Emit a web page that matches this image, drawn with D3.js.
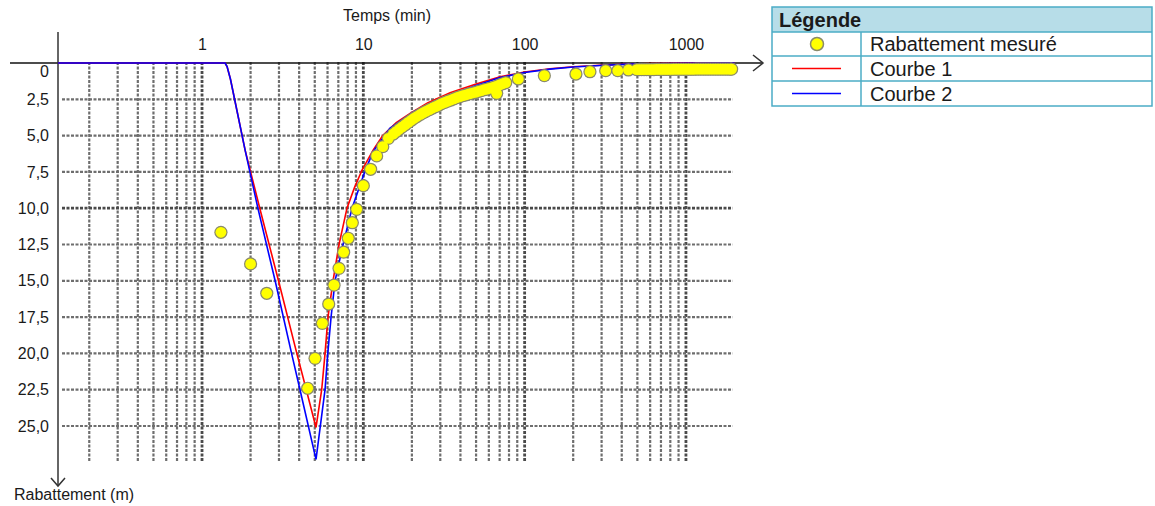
<!DOCTYPE html>
<html>
<head>
<meta charset="utf-8">
<script src="https://cdn.jsdelivr.net/npm/d3@7"></script>
<style>
body { margin: 0; background: #fff; }
text { font-family: "Liberation Sans", Arial, sans-serif; fill: #1a1a1a; }
.grid { fill: none; stroke: #6e6e6e; stroke-width: 2.2; stroke-dasharray: 3,1.5; }
.grid.major { stroke: #4a4a4a; stroke-width: 2.8; }
.curve { fill: none; stroke-width: 1.6; }
.arrow { fill: none; stroke: #333; stroke-width: 1.5; }
</style>
</head>
<body>
<div class="container"></div>
<script>
const WIDTH = 1155;
const HEIGHT = 506;

// temps (min), rabattement (m)
var measured = [
    [1.31, 11.66], [2.0, 13.84], [2.52, 15.86], [4.52, 22.4], [5.02, 20.34],
    [5.57, 17.93], [6.1, 16.6], [6.58, 15.3], [7.07, 14.14], [7.55, 13.03],
    [8.07, 12.07], [8.55, 11.0], [9.1, 10.08], [10.0, 8.45], [11.1, 7.32],
    [12.1, 6.4], [13.2, 5.76], [14.3, 5.19],
    [15.35, 4.89], [16.0, 4.72], [16.7, 4.56], [17.45, 4.4], [18.2, 4.25],
    [19.0, 4.09], [19.85, 3.94], [20.7, 3.8], [21.6, 3.67], [22.6, 3.54],
    [23.6, 3.42], [24.6, 3.31], [25.7, 3.21], [26.9, 3.1], [28.1, 3.0],
    [29.3, 2.91], [30.6, 2.8], [32.0, 2.71], [33.4, 2.63], [34.9, 2.55],
    [36.4, 2.47], [38.0, 2.39], [39.7, 2.32], [41.5, 2.25], [43.4, 2.19],
    [45.3, 2.13], [47.3, 2.07], [49.4, 2.02], [51.6, 1.96], [53.9, 1.9],
    [56.3, 1.84], [58.8, 1.79], [61.4, 1.73], [64.2, 1.67], [67.0, 1.6],
    [67.1, 2.09], [70.0, 1.51], [73.1, 1.43], [76.4, 1.35],
    [91.4, 1.1], [132.5, 0.87], [208, 0.76], [254, 0.6], [318, 0.53],
    [378, 0.53], [440, 0.48],
    [495, 0.46], [513, 0.46], [531, 0.46], [550, 0.45], [570, 0.45],
    [590, 0.45], [611, 0.45], [633, 0.45], [656, 0.44], [680, 0.44],
    [704, 0.44], [729, 0.44], [755, 0.44], [782, 0.44], [810, 0.44],
    [839, 0.43], [869, 0.43], [900, 0.43], [932, 0.43], [966, 0.43],
    [1000, 0.43], [1036, 0.43], [1073, 0.43], [1112, 0.43], [1152, 0.42],
    [1193, 0.42], [1236, 0.42], [1280, 0.42], [1326, 0.42], [1373, 0.42],
    [1422, 0.42], [1473, 0.42], [1526, 0.42], [1581, 0.42], [1637, 0.42],
    [1696, 0.42], [1757, 0.42], [1820, 0.42], [1885, 0.42], [1920, 0.42]
];

var courbe1 = [
    [0.128, 0], [1.39, 0], [1.43, 0.25], [1.5, 1.1], [1.85, 6.0], [2.28, 10.0],
    [2.98, 15.0], [3.87, 20.0], [4.43, 22.5], [5.09, 25.1], [5.52, 22.5],
    [5.79, 20.0], [6.04, 17.5], [6.49, 15.0], [7.07, 12.5], [7.92, 10.0],
    [8.8, 8.6], [9.82, 7.37], [11.5, 6.0], [13.2, 5.0], [16, 4.1], [19.5, 3.47],
    [25, 2.75], [34.5, 2.05], [50, 1.45], [70.4, 0.95], [100, 0.62],
    [143.7, 0.4], [200, 0.26], [293, 0.15], [450, 0.07], [600, 0.04],
    [1000, 0.01], [2000, 0]
];

var courbe2 = [
    [0.128, 0], [1.39, 0], [1.43, 0.25], [1.5, 1.1], [1.85, 6.0], [2.22, 10.0],
    [2.84, 15.0], [3.59, 20.0], [4.05, 22.5], [5.09, 27.3], [5.79, 22.5],
    [6.02, 20.0], [6.31, 17.5], [6.68, 15.0], [7.49, 12.5], [8.51, 10.0],
    [10.2, 7.5], [11.5, 6.1], [14.6, 4.5], [20.9, 3.3], [25, 2.9], [34.5, 2.2],
    [50, 1.55], [70.4, 1.0], [100, 0.65], [143.7, 0.42], [200, 0.28],
    [293, 0.17], [450, 0.08], [600, 0.05], [1000, 0.02], [2000, 0]
];

var xTickLabels = [1, 10, 100, 1000];
var yTicks = [0, 2.5, 5, 7.5, 10, 12.5, 15, 17.5, 20, 22.5, 25];
var legendItems = ['Rabattement mesuré', 'Courbe 1', 'Courbe 2'];

var translate = function(x, y) {
    return `translate(${x},${y})`;
};

var drawLegend = function(svg) {
    var lg = svg.append('g').attr('transform', translate(772, 7));
    var w = 380;
    var tops = [0, 25, 49, 74, 99];
    lg.append('rect').attr('x', 0).attr('y', 0).attr('width', w).attr('height', 25)
        .attr('fill', '#b7dde8');
    lg.append('rect').attr('x', 0).attr('y', 0).attr('width', w).attr('height', 99)
        .attr('fill', 'none').attr('stroke', '#4bacc6').attr('stroke-width', 1.5);
    [25, 49, 74].forEach(y => {
        lg.append('line').attr('x1', 0).attr('x2', w).attr('y1', y).attr('y2', y)
            .attr('stroke', '#4bacc6').attr('stroke-width', 1.5);
    });
    lg.append('line').attr('x1', 89).attr('x2', 89).attr('y1', 25).attr('y2', 99)
        .attr('stroke', '#4bacc6').attr('stroke-width', 1.5);
    lg.append('text').attr('x', 7).attr('y', 20).attr('font-size', 20)
        .attr('font-weight', 'bold').text('Légende');

    legendItems.forEach((label, i) => {
        var cy = (tops[i + 1] + tops[i + 2]) / 2;
        lg.append('text').attr('x', 98).attr('y', cy + 7).attr('font-size', 20).text(label);
        if (i === 0) {
            lg.append('circle').attr('cx', 45).attr('cy', cy).attr('r', 6.5)
                .attr('fill', '#ffff00').attr('stroke', '#8a8a6a').attr('stroke-width', 1.5);
        } else {
            lg.append('line').attr('x1', 20).attr('x2', 69).attr('y1', cy).attr('y2', cy)
                .attr('stroke', i === 1 ? '#ff0000' : '#0000ff').attr('stroke-width', 1.5);
        }
    });
};

var fillLayout = function() {
    var svg = d3.select('.container').append('svg')
        .attr('width', WIDTH)
        .attr('height', HEIGHT);

    let xScale = d3.scaleLog()
        .domain([0.128, 2000])
        .range([58, 734.5]);

    let yScale = d3.scaleLinear()
        .domain([0, 25])
        .range([63, 426]);

    var gridBottom = yScale(27.5);

    // vertical grid
    var vGrid = xScale.ticks().filter(d => d <= 1000);
    svg.append('g').selectAll('line').data(vGrid).enter().append('line')
        .attr('class', d => Math.abs(Math.log10(d) % 1) < 1e-9 ? 'grid major' : 'grid')
        .attr('x1', d => xScale(d)).attr('x2', d => xScale(d))
        .attr('y1', yScale(0) - 1).attr('y2', gridBottom);

    // horizontal grid
    svg.append('g').selectAll('line').data(yTicks.filter(d => d > 0)).enter().append('line')
        .attr('class', d => d === 10 ? 'grid major' : 'grid')
        .attr('x1', 62).attr('x2', xScale(1950))
        .attr('y1', d => yScale(d)).attr('y2', d => yScale(d));

    // axes lines + arrows
    svg.append('line').attr('x1', 10).attr('x2', 763).attr('y1', yScale(0)).attr('y2', yScale(0))
        .attr('stroke', '#111').attr('stroke-width', 1.5);
    svg.append('path').classed('arrow', true)
        .attr('d', `M753,${yScale(0) - 8}L763,${yScale(0)}L753,${yScale(0) + 8}`);
    svg.append('line').attr('x1', 58).attr('x2', 58).attr('y1', 32).attr('y2', 486)
        .attr('stroke', '#333').attr('stroke-width', 1.5);
    svg.append('path').classed('arrow', true).attr('d', 'M51,478L58,486L65,478');

    // top axis labels
    let xAxis = d3.axisTop(xScale).tickValues(xTickLabels).tickSize(0).tickPadding(0)
        .tickFormat(d3.format('d'));
    var gx = svg.append('g').attr('transform', translate(0, 50)).call(xAxis);
    gx.select('.domain').remove();
    gx.attr('font-size', 16);

    let yAxis = d3.axisLeft(yScale).tickValues(yTicks).tickSize(0).tickPadding(0)
        .tickFormat(d => d === 0 ? '0' : d3.format('.1f')(d).replace('.', ','));
    var gy = svg.append('g').attr('transform', translate(49, 0)).call(yAxis);
    gy.select('.domain').remove();
    gy.attr('font-size', 16);
    gy.selectAll('.tick').filter(d => d === 0).select('text').attr('dy', '0.85em');

    svg.append('text').attr('x', 387).attr('y', 21).attr('text-anchor', 'middle')
        .attr('font-size', 16).text('Temps (min)');
    svg.append('text').attr('x', 14).attr('y', 500).attr('font-size', 16)
        .text('Rabattement (m)');

    var line = d3.line()
        .x(([x, y]) => xScale(x))
        .y(([x, y]) => yScale(y));

    svg.append('path').classed('curve', true).attr('stroke', '#ff0000').attr('d', line(courbe1));
    svg.append('path').classed('curve', true).attr('stroke', '#0000ff').attr('d', line(courbe2));

    // outlines first, then fills, so dense runs merge into one band
    var pts = svg.append('g');
    pts.selectAll('circle.edge').data(measured).enter().append('circle')
        .attr('class', 'edge')
        .attr('cx', d => xScale(d[0]))
        .attr('cy', d => yScale(d[1]))
        .attr('r', 6.6)
        .attr('fill', '#8a8a6a');
    pts.selectAll('circle.dot').data(measured).enter().append('circle')
        .attr('class', 'dot')
        .attr('cx', d => xScale(d[0]))
        .attr('cy', d => yScale(d[1]))
        .attr('r', 5.4)
        .attr('fill', '#ffff00');

    drawLegend(svg);
};
window.onload = fillLayout;
</script>
</body>
</html>
